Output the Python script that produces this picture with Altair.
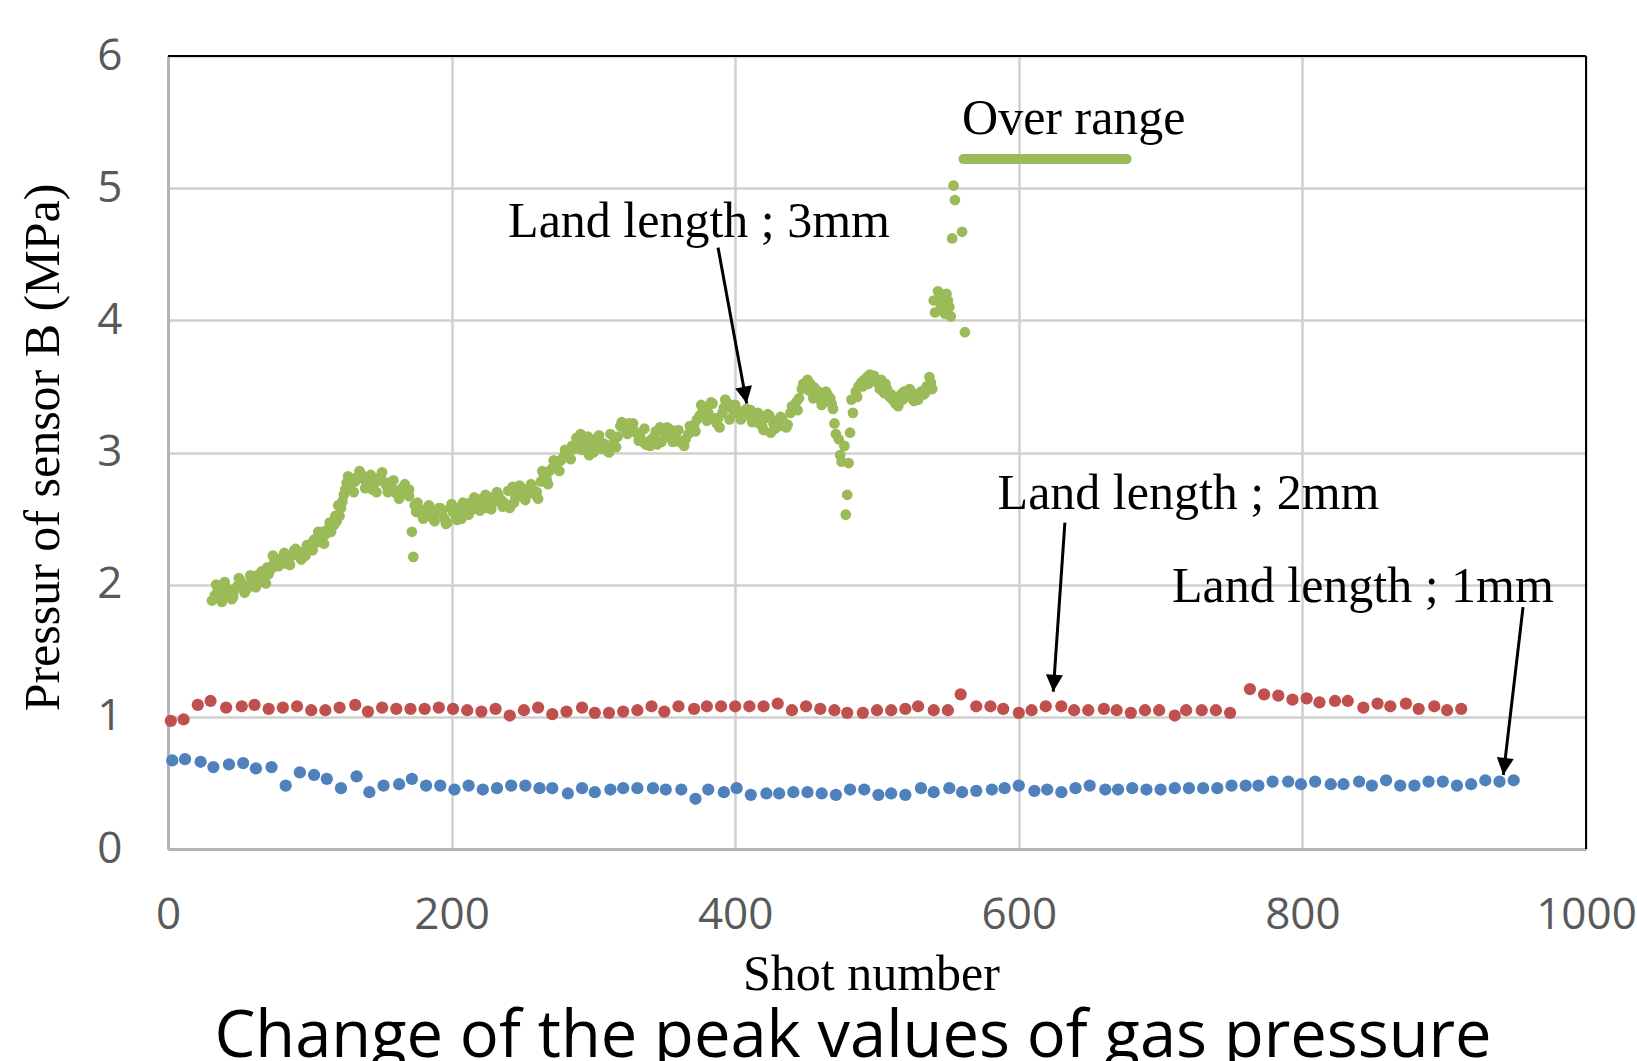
import altair as alt
import pandas as pd

# ---- Data ----
blue_x = [3, 12, 23, 32, 43, 53, 62, 73, 83, 93, 103, 112, 122, 133, 142, 152, 163, 172, 182, 192,
          202, 212, 222, 232, 242, 252, 262, 271, 282, 292, 301, 312, 321, 331, 342,
          351, 362, 372, 381, 392, 401, 411, 422, 431, 441, 451, 461, 471, 481, 491, 501, 510, 520,
          531, 540, 551, 560, 570, 581, 590, 600, 611, 620, 630, 640, 650, 661, 670, 680,
          690, 700, 710, 720, 730, 740, 750, 760, 769, 779, 790, 799, 809, 820, 829, 840, 849, 859,
          869, 879, 889, 899, 909, 919, 929, 939, 949]
blue_y = [0.67, 0.68, 0.66, 0.62, 0.64, 0.65, 0.61, 0.62, 0.48, 0.58, 0.56, 0.53, 0.46, 0.55, 0.43, 0.48, 0.49, 0.53, 0.48, 0.48,
          0.45, 0.48, 0.45, 0.46, 0.48, 0.48, 0.46, 0.46, 0.42, 0.46, 0.43, 0.45, 0.46, 0.46, 0.46,
          0.45, 0.45, 0.38, 0.45, 0.43, 0.46, 0.41, 0.42, 0.42, 0.43, 0.43, 0.42, 0.41, 0.45, 0.45, 0.41, 0.42, 0.41,
          0.46, 0.43, 0.46, 0.43, 0.44, 0.45, 0.46, 0.48, 0.44, 0.45, 0.43, 0.46, 0.48, 0.45, 0.45, 0.46,
          0.45, 0.45, 0.46, 0.46, 0.46, 0.46, 0.48, 0.48, 0.48, 0.51, 0.51, 0.49, 0.51, 0.49, 0.49, 0.51, 0.48, 0.52,
          0.48, 0.48, 0.51, 0.51, 0.48, 0.49, 0.52, 0.51, 0.52]

red_x = [2, 11, 21, 30, 41, 52, 61, 71, 81, 91, 101, 111, 121, 132, 141, 151, 161, 171, 181, 191,
         201, 211, 221, 231, 241, 251, 261, 271, 281, 292, 301, 311, 321, 331, 341,
         350, 360, 371, 380, 390, 400, 410, 420, 430, 440, 450, 460, 470, 479, 490, 500, 510, 520,
         529, 540, 550, 559, 570, 580, 589, 600, 609, 619, 630, 639, 649, 660, 669, 679,
         689, 699, 710, 718, 729, 739, 749, 763, 773, 783, 793, 803, 812, 823, 832, 843, 853, 862,
         873, 882, 893, 902, 912]
red_y = [0.97, 0.98, 1.09, 1.12, 1.07, 1.08, 1.09, 1.06, 1.07, 1.08, 1.05, 1.05, 1.07, 1.09, 1.04, 1.07, 1.06, 1.06, 1.06, 1.07,
         1.06, 1.05, 1.04, 1.06, 1.01, 1.05, 1.07, 1.02, 1.04, 1.07, 1.03, 1.03, 1.04, 1.05, 1.08,
         1.04, 1.08, 1.06, 1.08, 1.08, 1.08, 1.08, 1.08, 1.10, 1.05, 1.08, 1.06, 1.05, 1.03, 1.03, 1.05, 1.05, 1.06,
         1.08, 1.05, 1.05, 1.17, 1.08, 1.08, 1.06, 1.03, 1.05, 1.08, 1.08, 1.05, 1.05, 1.06, 1.05, 1.03,
         1.05, 1.05, 1.01, 1.05, 1.05, 1.05, 1.03, 1.21, 1.17, 1.16, 1.13, 1.14, 1.11, 1.12, 1.12, 1.07, 1.10, 1.08,
         1.10, 1.06, 1.08, 1.05, 1.06]

green_x = [31, 33, 35, 36, 38, 40, 41, 43, 45, 47, 49, 51, 53, 55, 57, 59, 61, 63, 65, 67, 69,
           71, 73, 75, 77, 79, 81, 83, 85, 87, 89, 91, 93, 95, 97, 99, 101, 103, 105, 107, 109,
           111, 113, 115, 117, 119, 121, 122, 123, 124, 125, 126, 128, 130, 132, 134, 136, 138, 140,
           142, 144, 146, 148, 150, 152, 154, 156, 158, 160, 162, 164, 166, 168, 170, 172, 173,
           174, 175, 177, 179, 181, 183, 185, 187, 189, 191, 193, 195, 197, 199, 201, 203, 205, 207, 209,
           211, 213, 215, 217, 219, 221, 223, 225, 227, 229, 231, 233, 235, 237, 239, 241, 243, 245, 247, 249,
           251, 253, 255, 257, 259, 261, 263, 265, 267, 269, 271, 273, 275, 277, 279, 281, 283, 285, 287, 289,
           291, 293, 295, 297, 299, 301, 303, 305, 307, 309, 311, 313, 315, 317, 319, 321, 323, 325, 327, 329,
           331, 333, 335, 337, 339, 341, 343, 345, 347, 349, 351, 353, 355, 357, 359, 361, 363, 365, 367, 369,
           371, 373, 375, 377, 379, 381, 383, 385, 387, 389, 391, 393, 395, 397, 399, 401, 403, 405, 407, 409,
           411, 413, 415, 417, 419, 421, 423, 425, 427, 429, 431, 433, 435, 437, 439, 441, 443, 445, 447, 449,
           451, 453, 455, 457, 459, 461, 463, 465, 467, 469, 470, 471, 473, 474, 475, 477, 478, 479, 480, 481,
           483, 485, 487, 489, 491, 493, 495, 497, 499, 501, 503, 505, 507, 509, 511, 513, 515, 517, 519, 521,
           523, 525, 527, 529, 531, 533, 535, 537, 539, 540, 541, 543, 545, 547, 549, 551, 552, 553, 554, 555,
           560, 562]
green_y = [1.88, 1.92, 1.95, 1.90, 1.98, 2.02, 1.93, 1.95, 1.89, 1.96, 1.99, 2.03, 2.00, 1.96, 1.98, 2.04, 2.06, 2.07, 2.02, 2.04, 2.01,
           2.08, 2.12, 2.17, 2.19, 2.18, 2.21, 2.16, 2.18, 2.22, 2.26, 2.23, 2.21, 2.25, 2.22, 2.28, 2.31, 2.34, 2.32, 2.36, 2.40,
           2.38, 2.42, 2.40, 2.45, 2.48, 2.52, 2.58, 2.63, 2.68, 2.72, 2.77, 2.76, 2.80, 2.78, 2.82, 2.84, 2.80, 2.76,
           2.74, 2.72, 2.77, 2.80, 2.82, 2.78, 2.75, 2.77, 2.73, 2.70, 2.68, 2.72, 2.74, 2.70, 2.72, 2.40, 2.21,
           2.60, 2.55, 2.57, 2.53, 2.56, 2.58, 2.52, 2.50, 2.55, 2.58, 2.54, 2.50, 2.47, 2.58, 2.55, 2.52, 2.58, 2.50, 2.56,
           2.60, 2.62, 2.57, 2.60, 2.63, 2.65, 2.60, 2.58, 2.62, 2.66, 2.63, 2.68, 2.64, 2.62, 2.60, 2.58, 2.74, 2.66, 2.70, 2.67,
           2.72, 2.68, 2.70, 2.73, 2.68, 2.65, 2.78, 2.83, 2.80, 2.86, 2.88, 2.90, 2.92, 2.94, 2.97, 2.99, 3.01, 3.05, 3.03, 3.08,
           3.14, 3.10, 3.05, 2.98, 3.04, 3.10, 3.06, 3.03, 3.07, 3.02, 3.00, 3.06, 3.10, 3.12, 3.20, 3.19, 3.17, 3.22, 3.18, 3.16,
           3.14, 3.12, 3.08, 3.06, 3.08, 3.10, 3.12, 3.06, 3.19, 3.16, 3.12, 3.14, 3.17, 3.12, 3.10, 3.08, 3.07, 3.10, 3.14, 3.18,
           3.21, 3.25, 3.28, 3.31, 3.34, 3.30, 3.38, 3.26, 3.22, 3.19, 3.30, 3.40, 3.37, 3.34, 3.30, 3.32, 3.29, 3.31, 3.28, 3.30,
           3.32, 3.28, 3.25, 3.22, 3.20, 3.26, 3.29, 3.15, 3.22, 3.24, 3.20, 3.26, 3.22, 3.21, 3.30, 3.33, 3.38, 3.41, 3.48, 3.50,
           3.55, 3.52, 3.41, 3.45, 3.46, 3.36, 3.42, 3.44, 3.41, 3.33, 3.22, 3.14, 3.10, 2.98, 2.93, 3.05, 2.53, 2.68, 2.92, 3.15,
           3.30, 3.46, 3.50, 3.53, 3.55, 3.57, 3.59, 3.56, 3.54, 3.52, 3.55, 3.45, 3.48, 3.42, 3.40, 3.37, 3.35, 3.44, 3.46, 3.42,
           3.48, 3.45, 3.43, 3.40, 3.46, 3.44, 3.50, 3.57, 3.48, 4.15, 4.06, 4.22, 4.12, 4.09, 4.20, 4.10, 4.03, 4.62, 5.02, 4.91,
           4.67, 3.91]

# additional green points along the upper and lower edges of the dense band
green_edge_x = [34, 38, 42, 46, 50, 54, 58, 62, 66, 70, 74, 78, 82, 86, 90, 94, 98, 102, 106, 110,
                114, 118, 120, 127, 131, 135, 139, 143, 147, 151, 155, 159, 163, 167, 170,
                176, 180, 184, 188, 192, 196, 200, 204, 208, 212, 216, 220, 224, 228, 232, 236, 240,
                244, 248, 252, 256, 260, 264, 268, 272, 276, 280, 284, 288, 292, 296, 300, 304, 308,
                312, 316, 320, 324, 328, 332, 336, 340, 344, 348, 352, 356, 360, 364, 368, 372, 376,
                380, 384, 388, 392, 396, 400, 404, 408, 412, 416, 420, 424, 428, 432, 436, 440, 444,
                448, 452, 456, 460, 464, 468, 482, 486, 490, 494, 498, 502, 506, 510, 514, 518, 522,
                526, 530, 534, 538, 544, 548, 550]
green_edge_y = [2.00, 1.87, 1.97, 1.91, 2.05, 1.94, 2.07, 1.98, 2.10, 2.13, 2.22, 2.14, 2.24, 2.15, 2.27, 2.19, 2.30, 2.26, 2.40, 2.31,
                2.47, 2.52, 2.60, 2.82, 2.70, 2.86, 2.73, 2.83, 2.70, 2.85, 2.70, 2.79, 2.65, 2.76, 2.67,
                2.62, 2.50, 2.60, 2.48, 2.58, 2.46, 2.61, 2.49, 2.62, 2.53, 2.66, 2.56, 2.68, 2.57, 2.70, 2.59, 2.71,
                2.62, 2.75, 2.64, 2.76, 2.70, 2.86, 2.76, 2.94, 2.86, 3.02, 2.95, 3.11, 3.02, 3.12, 3.00, 3.13, 3.04,
                3.14, 3.04, 3.23, 3.14, 3.22, 3.09, 3.18, 3.05, 3.16, 3.08, 3.19, 3.08, 3.17, 3.05, 3.20, 3.16, 3.36,
                3.24, 3.37, 3.26, 3.34, 3.25, 3.36, 3.25, 3.33, 3.23, 3.30, 3.17, 3.28, 3.18, 3.27, 3.19, 3.35, 3.32,
                3.52, 3.47, 3.49, 3.40, 3.46, 3.37, 3.40, 3.42, 3.50, 3.52, 3.58, 3.48, 3.52, 3.44, 3.41, 3.40, 3.47,
                3.39, 3.44, 3.45, 3.53, 4.17, 4.05, 4.15]

over_range_x = [561, 676]
over_range_y = [5.22, 5.22]

ann_text = ["Land length ; 3mm", "Over range", "Land length ; 2mm", "Land length ; 1mm"]
ann_x = [374.5, 638.8, 719.7, 842.7]
ann_y = [4.63, 5.41, 2.57, 1.87]

arrow_x = [387.9, 632.5, 955.6]
arrow_y = [4.55, 2.47, 1.83]
arrow_tip_x = [408.1, 624.3, 941.7]
arrow_tip_y = [3.37, 1.19, 0.56]
arrow_angle = [349.6, 4.0, 6.6]

x_ticks = [0, 200, 400, 600, 800, 1000]
y_ticks = [0, 1, 2, 3, 4, 5, 6]

BLUE, RED, GREEN = "#4f81bd", "#c0504d", "#9bbb59"

# ---- Tables ----
df_blue = pd.DataFrame({"shot": blue_x, "p": blue_y})
df_red = pd.DataFrame({"shot": red_x, "p": red_y})
df_green = pd.DataFrame({"shot": green_x + green_edge_x, "p": green_y + green_edge_y})
df_over = pd.DataFrame({"x": [over_range_x[0]], "x2": [over_range_x[1]], "y": [over_range_y[0]]})
df_ann = pd.DataFrame({"label": ann_text, "x": ann_x, "y": ann_y})
df_arrow = pd.DataFrame({"x": arrow_x, "y": arrow_y, "x2": arrow_tip_x, "y2": arrow_tip_y, "ang": arrow_angle})
df_frame = pd.DataFrame({"x": [0, 1000], "x2": [1000, 1000], "y": [6, 0], "y2": [6, 6]})

xscale = alt.Scale(domain=[0, 1000], nice=False, zero=False)
yscale = alt.Scale(domain=[0, 6], nice=False)

x_axis = alt.Axis(values=x_ticks, format="d", title="Shot number", labelFont="Open Sans", labelFontSize=44,
                  labelColor="#595959", labelPadding=44, labelFlush=False, ticks=False,
                  domainColor="#b3b3b3", domainWidth=3, gridColor="#d0d0d0", gridWidth=2.5,
                  titleFont="Liberation Serif", titleFontSize=50, titleFontWeight="normal",
                  titleColor="black", titleX=703, titleY=140, titleAlign="center",
                  titleBaseline="alphabetic")
y_axis = alt.Axis(values=y_ticks, format="d", title="Pressur of sensor B (MPa)", labelFont="Open Sans",
                  labelFontSize=44, labelColor="#595959", labelPadding=46, labelFlush=False,
                  ticks=False, domainColor="#b3b3b3", domainWidth=3, gridColor="#d0d0d0",
                  gridWidth=2.5, titleFont="Liberation Serif", titleFontSize=50,
                  titleFontWeight="normal", titleColor="black", titleX=-110, titleY=391,
                  titleAngle=270, titleAlign="center", titleBaseline="alphabetic")

base_x = alt.X("shot:Q", scale=xscale, axis=x_axis)
base_y = alt.Y("p:Q", scale=yscale, axis=y_axis)

green = alt.Chart(df_green).mark_circle(color=GREEN, opacity=1, size=115).encode(x=base_x, y=base_y)
red = alt.Chart(df_red).mark_circle(color=RED, opacity=1, size=150).encode(x=base_x, y=base_y)
blue = alt.Chart(df_blue).mark_circle(color=BLUE, opacity=1, size=150).encode(x=base_x, y=base_y)

over = alt.Chart(df_over).mark_rule(color=GREEN, strokeWidth=10, strokeCap="round").encode(
    x=alt.X("x:Q", scale=xscale), x2="x2:Q", y=alt.Y("y:Q", scale=yscale))

frame = alt.Chart(df_frame).mark_rule(color="black", strokeWidth=2).encode(
    x=alt.X("x:Q", scale=xscale), x2="x2:Q", y=alt.Y("y:Q", scale=yscale), y2="y2:Q")

ann = alt.Chart(df_ann).mark_text(font="Liberation Serif", fontSize=50, color="black",
                                  align="center", baseline="alphabetic").encode(
    x=alt.X("x:Q", scale=xscale), y=alt.Y("y:Q", scale=yscale), text="label:N")

arrow_lines = alt.Chart(df_arrow).mark_rule(color="black", strokeWidth=3).encode(
    x=alt.X("x:Q", scale=xscale), y=alt.Y("y:Q", scale=yscale), x2="x2:Q", y2="y2:Q")

arrow_heads = alt.Chart(df_arrow).mark_point(shape="M0,0 L-0.5,-1 L0.5,-1 Z", filled=True,
                                             color="black", opacity=1, size=1156).encode(
    x=alt.X("x2:Q", scale=xscale), y=alt.Y("y2:Q", scale=yscale),
    angle=alt.Angle("ang:Q", scale=None))

chart = alt.layer(green, red, blue, over, frame, arrow_lines, arrow_heads, ann).properties(
    width=1418, height=793,
    autosize=alt.AutoSizeParams(type="none"),
    padding={"left": 168, "top": 56, "right": 51, "bottom": 212},
    title=alt.TitleParams(text="Change of the peak values of gas pressure", orient="bottom",
                          anchor="middle", font="Open Sans", fontSize=65, fontWeight="normal",
                          color="black", offset=58, dx=-24, baseline="alphabetic"),
).configure_view(stroke=None).configure(background="white")

chart.save("out.html", embed_options={"renderer": "svg", "actions": False})
